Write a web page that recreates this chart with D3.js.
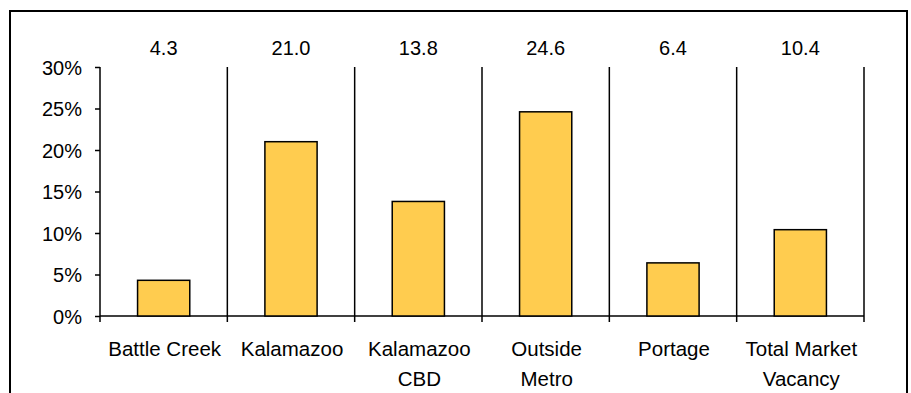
<!DOCTYPE html>
<html>
<head>
<meta charset="utf-8">
<style>
  body { margin: 0; background: #fff; }
  svg text { font-family: "Liberation Sans", Arial, sans-serif; fill: #000; }
</style>
<script src="https://d3js.org/d3.v7.min.js"></script>
</head>
<body>
<div id="chart"></div>
<script>
// categories and vacancy rates (%)
var categories = ["Battle Creek", "Kalamazoo", "Kalamazoo\nCBD", "Outside\nMetro", "Portage", "Total Market\nVacancy"];
var vacancy = [4.3, 21.0, 13.8, 24.6, 6.4, 10.4];
var yTicks = [0, 5, 10, 15, 20, 25, 30];

var W = 911, H = 393;
var svg = d3.select("#chart").append("svg")
    .attr("width", W).attr("height", H);

// outer frame (bottom runs off the picture)
svg.append("rect")
    .attr("x", 10).attr("y", 11)
    .attr("width", 897).attr("height", 400)
    .attr("fill", "none").attr("stroke", "#000").attr("stroke-width", 2);

var x = d3.scaleBand()
    .domain(d3.range(categories.length))
    .range([100, 864])
    .padding(0);

var y = d3.scaleLinear()
    .domain([0, 30])
    .range([316, 67]);

var g = svg.append("g");

// y axis
var yAxis = d3.axisLeft(y)
    .tickValues(yTicks)
    .tickSize(5)
    .tickPadding(13)
    .tickFormat(function(d) { return d + "%"; });
var ya = g.append("g")
    .attr("transform", "translate(100,0)")
    .call(yAxis);
ya.select(".domain").attr("stroke", "#000").attr("stroke-width", 1.5).attr("d", "M0," + y(30) + "V" + y(0));
ya.selectAll(".tick line").attr("stroke", "#000").attr("stroke-width", 1.5);
ya.selectAll(".tick text")
    .style("font-family", "'Liberation Sans', Arial, sans-serif")
    .style("font-size", "20px")
    .attr("dy", "0.36em");

// vertical separators between categories
var seps = d3.range(1, categories.length + 1);
g.selectAll(".sep").data(seps).enter().append("line")
    .attr("class", "sep")
    .attr("x1", function(i) { return 100 + x.step() * i; })
    .attr("x2", function(i) { return 100 + x.step() * i; })
    .attr("y1", y(30)).attr("y2", y(0) + 6)
    .attr("stroke", "#000").attr("stroke-width", 1.5);

// x axis baseline + ticks
g.append("line")
    .attr("x1", 100).attr("x2", 864)
    .attr("y1", y(0)).attr("y2", y(0))
    .attr("stroke", "#000").attr("stroke-width", 1.5);
g.append("line")
    .attr("x1", 100).attr("x2", 100)
    .attr("y1", y(0)).attr("y2", y(0) + 6)
    .attr("stroke", "#000").attr("stroke-width", 1.5);

// bars
var barW = x.bandwidth() * 0.41;
g.selectAll(".bar").data(vacancy).enter().append("rect")
    .attr("class", "bar")
    .attr("x", function(d, i) { return x(i) + (x.bandwidth() - barW) / 2; })
    .attr("width", barW)
    .attr("y", function(d) { return y(d); })
    .attr("height", function(d) { return y(0) - y(d); })
    .attr("fill", "#FFCC4F")
    .attr("stroke", "#000").attr("stroke-width", 1.5);

// value labels on top row
g.selectAll(".val").data(vacancy).enter().append("text")
    .attr("class", "val")
    .attr("x", function(d, i) { return x(i) + x.bandwidth() / 2; })
    .attr("y", 55)
    .attr("text-anchor", "middle")
    .style("font-size", "20px")
    .text(function(d) { return d.toFixed(1); });

// category labels
var lab = g.selectAll(".cat").data(categories).enter().append("text")
    .attr("class", "cat")
    .attr("text-anchor", "middle")
    .style("font-size", "20.5px");
lab.each(function(d, i) {
  var t = d3.select(this);
  d.split("\n").forEach(function(line, j) {
    t.append("tspan")
      .attr("x", x(i) + x.bandwidth() / 2 + 1)
      .attr("y", 356 + j * 30)
      .text(line);
  });
});
</script>
</body>
</html>
